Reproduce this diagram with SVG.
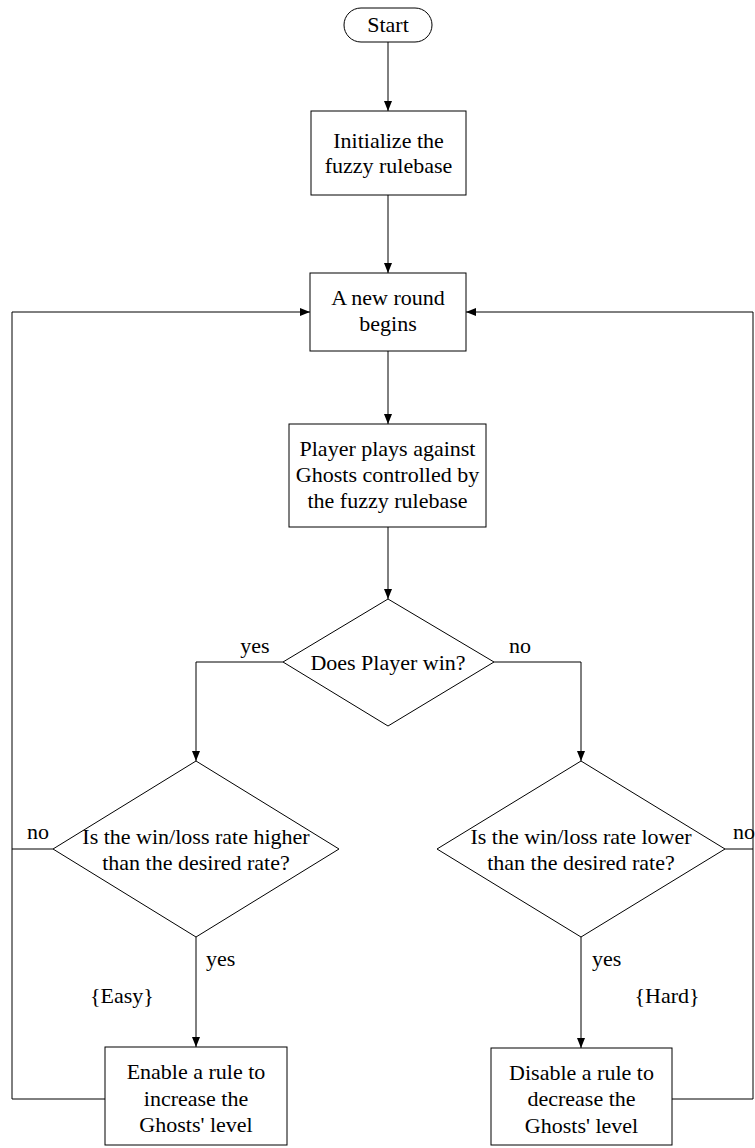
<svg xmlns="http://www.w3.org/2000/svg" width="755" height="1148" viewBox="0 0 755 1148" font-family="'Liberation Serif', 'Times New Roman', serif" font-size="22">
<style>
.s{fill:#fff;stroke:#000;stroke-width:1}
.c{fill:none;stroke:#000;stroke-width:1}
text{font-family:'Liberation Serif','DejaVu Serif',serif;font-size:22px;fill:#000}
.m{text-anchor:middle}
</style>
<defs>
<marker id="ar" viewBox="0 0 10 10" refX="10" refY="5" markerWidth="10" markerHeight="10" markerUnits="userSpaceOnUse" orient="auto">
<path d="M0,1 L10,5 L0,9 Z" fill="#000"/>
</marker>
</defs>
<rect width="755" height="1148" fill="#fff"/>
<g id="connectors">
<line class="c" x1="388" y1="42" x2="388" y2="111" marker-end="url(#ar)"/>
<line class="c" x1="388" y1="195" x2="388" y2="273" marker-end="url(#ar)"/>
<line class="c" x1="388" y1="351" x2="388" y2="424" marker-end="url(#ar)"/>
<line class="c" x1="388" y1="527" x2="388" y2="599" marker-end="url(#ar)"/>
<polyline class="c" points="283,662 196,662 196,761" marker-end="url(#ar)"/>
<polyline class="c" points="494,662 581,662 581,761" marker-end="url(#ar)"/>
<line class="c" x1="196" y1="937" x2="196" y2="1047" marker-end="url(#ar)"/>
<line class="c" x1="581" y1="937" x2="581" y2="1048" marker-end="url(#ar)"/>
<polyline class="c" points="105,1099 12,1099 12,312 310,312" marker-end="url(#ar)"/>
<line class="c" x1="53" y1="849" x2="12" y2="849"/>
<polyline class="c" points="672,1099 753,1099 753,312 466,312" marker-end="url(#ar)"/>
<line class="c" x1="725" y1="849" x2="753" y2="849"/>
<text x="255" y="653" class="m">yes</text>
<text x="520" y="653" class="m">no</text>
<text x="38" y="839" class="m">no</text>
<text x="744" y="839" class="m">no</text>
<text x="206" y="966">yes</text>
<text x="592" y="966">yes</text>
<text x="122" y="1003" class="m">{Easy}</text>
<text x="667" y="1003" class="m">{Hard}</text>
</g>
<g id="start">
<rect class="s" x="344" y="8" width="88" height="34" rx="17" ry="17"/>
<text x="388" y="32" class="m">Start</text>
</g>
<g id="init">
<rect class="s" x="311" y="111" width="155" height="84"/>
<text x="388.5" y="148" class="m">Initialize the</text>
<text x="388.5" y="173" class="m">fuzzy rulebase</text>
</g>
<g id="newround">
<rect class="s" x="310" y="273" width="156" height="78"/>
<text x="388" y="305" class="m">A new round</text>
<text x="388" y="331" class="m">begins</text>
</g>
<g id="play">
<rect class="s" x="289" y="424" width="197" height="103"/>
<text x="387.5" y="456" class="m">Player plays against</text>
<text x="387.5" y="482" class="m">Ghosts controlled by</text>
<text x="387.5" y="508" class="m">the fuzzy rulebase</text>
</g>
<g id="win">
<polygon class="s" points="388,599 494,662 388,726 283,662"/>
<text x="388" y="670" class="m">Does Player win?</text>
</g>
<g id="higher">
<polygon class="s" points="196,761 339,849 196,937 53,849"/>
<text x="196" y="844" class="m">Is the win/loss rate higher</text>
<text x="196" y="870" class="m">than the desired rate?</text>
</g>
<g id="lower">
<polygon class="s" points="581,761 725,849 581,937 437,849"/>
<text x="581" y="844" class="m">Is the win/loss rate lower</text>
<text x="581" y="870" class="m">than the desired rate?</text>
</g>
<g id="enable">
<rect class="s" x="105" y="1047" width="182" height="98"/>
<text x="196" y="1079" class="m">Enable a rule to</text>
<text x="196" y="1106" class="m">increase the</text>
<text x="196" y="1132" class="m">Ghosts' level</text>
</g>
<g id="disable">
<rect class="s" x="491" y="1048" width="181" height="97"/>
<text x="581.5" y="1080" class="m">Disable a rule to</text>
<text x="581.5" y="1106" class="m">decrease the</text>
<text x="581.5" y="1133" class="m">Ghosts' level</text>
</g>
</svg>
